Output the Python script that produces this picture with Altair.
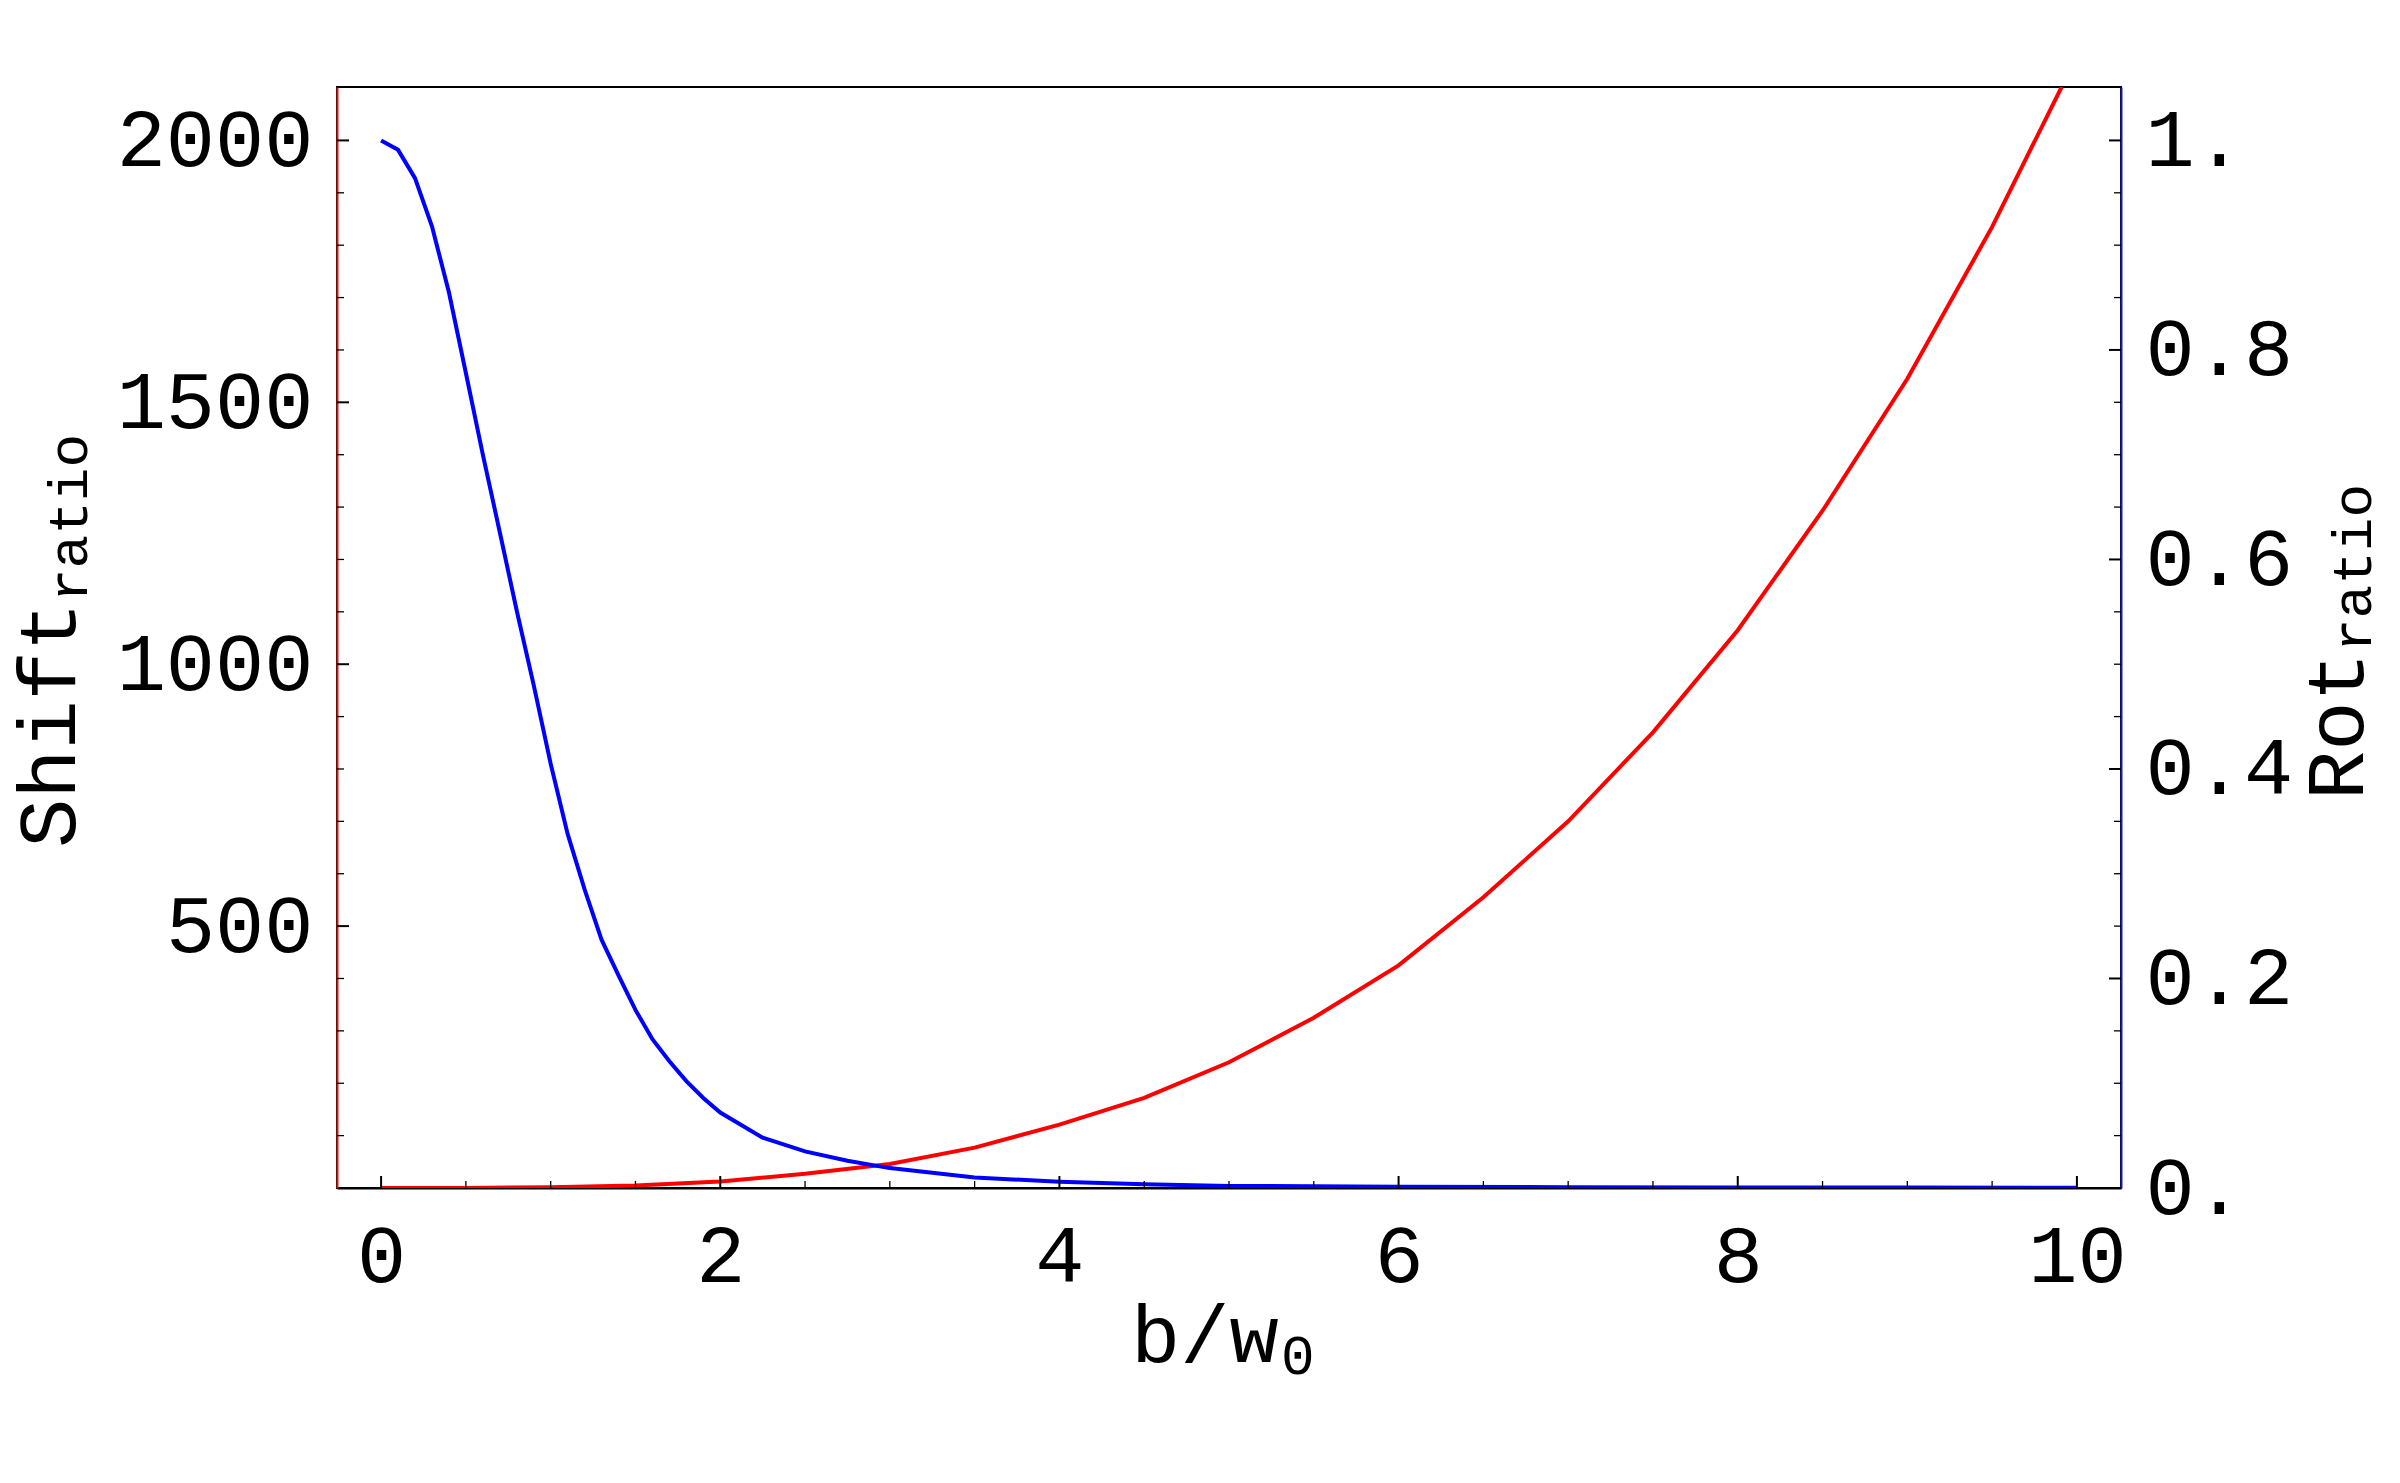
import altair as alt
import pandas as pd

# ---------------- data ----------------
x_red = [0, 0.5, 1.0, 1.5, 2.0, 2.5, 3.0, 3.5, 4.0, 4.5, 5.0, 5.5, 6.0, 6.5,
         7.0, 7.5, 8.0, 8.5, 9.0, 9.5, 9.91]
shift_ratio = [0, 0.2, 1.3, 5, 12.5, 27, 46, 77, 121, 172, 240, 325, 425, 555,
               700, 870, 1065, 1293, 1545, 1835, 2102]

x_blue = [0, 0.1, 0.2, 0.3, 0.4, 0.5, 0.6, 0.7, 0.8, 0.9, 1.0, 1.1, 1.2, 1.3,
          1.4, 1.5, 1.6, 1.7, 1.8, 1.9, 2.0, 2.25, 2.5, 2.75, 3.0, 3.5, 4.0,
          4.5, 5.0, 6.0, 7.0, 8.0, 9.0, 10.0]
rot_ratio = [1.0, 0.991, 0.964, 0.918, 0.855, 0.778, 0.70, 0.626, 0.551, 0.48,
             0.405, 0.338, 0.285, 0.237, 0.203, 0.17, 0.142, 0.121, 0.102,
             0.086, 0.072, 0.048, 0.035, 0.026, 0.019, 0.010, 0.006, 0.0035,
             0.002, 0.0012, 0.0008, 0.0005, 0.0004, 0.0003]

x_major = [0, 2, 4, 6, 8, 10]
x_minor = [0.5, 1, 1.5, 2.5, 3, 3.5, 4.5, 5, 5.5, 6.5, 7, 7.5, 8.5, 9, 9.5]
left_major = [500, 1000, 1500, 2000]
left_minor = [100, 200, 300, 400, 600, 700, 800, 900, 1100, 1200, 1300, 1400,
              1600, 1700, 1800, 1900]
right_major = [0, 0.2, 0.4, 0.6, 0.8, 1.0]
right_minor = [0.05, 0.1, 0.15, 0.25, 0.3, 0.35, 0.45, 0.5, 0.55, 0.65, 0.7,
               0.75, 0.85, 0.9, 0.95]

# ---------------- layout ----------------
W, H = 1784, 1101
FONT = "Liberation Mono"
FS = 82
FS_SUB = 56
MAJ, MIN = 12, 7
RED, BLUE = "#ff0000", "#0000ff"
RED_AXIS, BLUE_AXIS = "#d01818", "#1818c0"

xs = alt.Scale(domain=[-0.26, 10.26], nice=False, zero=False)
ys = alt.Scale(domain=[0, 2102], nice=False, zero=False)
yr = alt.Scale(domain=[0, 1.051], nice=False, zero=False)

x_axis = alt.Axis(
    values=x_major, ticks=False, grid=False, title=None, format="d",
    domainColor="black", domainWidth=2, labelFont=FONT, labelFontSize=FS,
    labelColor="black", labelPadding=28, labelFlush=False,
    labelOverlap=False, labelLimit=500)

red_df = pd.DataFrame({"x": x_red, "v": shift_ratio})
blue_df = pd.DataFrame({"x": x_blue, "v": rot_ratio})

red = alt.Chart(red_df).mark_line(color=RED, strokeWidth=4, clip=True).encode(
    x=alt.X("x:Q", scale=xs, axis=x_axis),
    y=alt.Y("v:Q", scale=ys, axis=alt.Axis(
        orient="left", values=left_major, ticks=False, grid=False, title=None,
        format="d", domainColor=RED_AXIS, domainWidth=2, labelFont=FONT,
        labelFontSize=FS, labelColor="black", labelPadding=24,
        labelFlush=False, labelOverlap=False, labelLimit=500)),
)

blue = alt.Chart(blue_df).mark_line(color=BLUE, strokeWidth=4, clip=True).encode(
    x=alt.X("x:Q", scale=xs, axis=x_axis),
    y=alt.Y("v:Q", scale=yr, axis=alt.Axis(
        orient="right", values=right_major, ticks=False, grid=False,
        title=None, domainColor=BLUE_AXIS, domainWidth=2, labelFont=FONT,
        labelFontSize=FS, labelColor="black", labelPadding=24,
        labelFlush=False, labelOverlap=False, labelLimit=500,
        labelExpr="datum.value == 0 ? '0.' : (datum.value == 1 ? '1.' : format(datum.value, '.1f'))")),
)


def yticks(vals, scale, x0, x1, w):
    return alt.Chart(pd.DataFrame({"v": vals})).mark_rule(
        color="black", strokeWidth=w).encode(
        y=alt.Y("v:Q", scale=scale, axis=None),
        x=alt.value(x0), x2=alt.value(x1))


def xticks(vals, length, w):
    return alt.Chart(pd.DataFrame({"v": vals})).mark_rule(
        color="black", strokeWidth=w).encode(
        x=alt.X("v:Q", scale=xs, axis=x_axis),
        y=alt.value(H), y2=alt.value(H - length))


def label(txt, x, y, size, angle=0):
    return alt.Chart(pd.DataFrame({"t": [txt]})).mark_text(
        font=FONT, fontSize=size, angle=angle, align="left",
        baseline="alphabetic", color="black").encode(
        text="t:N", x=alt.value(x), y=alt.value(y))


layers = [
    red, blue,
    yticks(left_major, ys, 0, MAJ, 2),
    yticks(left_minor, ys, 0, MIN, 1.3),
    yticks(right_major, yr, W - MAJ, W, 2),
    yticks(right_minor, yr, W - MIN, W, 1.3),
    xticks(x_major, MAJ, 2),
    xticks(x_minor, MIN, 1.3),
    label("b/w", 794, 1275, FS),
    label("0", 944, 1287, FS_SUB),
    label("Shift", -262, 761, FS, 270),
    label("ratio", -250, 515, FS_SUB, 270),
    label("Rot", 2026, 713, FS, 270),
    label("ratio", 2034, 565, FS_SUB, 270),
]

chart = alt.layer(*layers).resolve_scale(y="independent").properties(
    width=W, height=H,
    autosize=alt.AutoSizeParams(type="none"),
    padding={"left": 329, "top": 79, "right": 271, "bottom": 280},
    background="white",
).configure_view(stroke="black", strokeWidth=2)

chart.save("out.html", embed_options={"renderer": "svg", "actions": False})
